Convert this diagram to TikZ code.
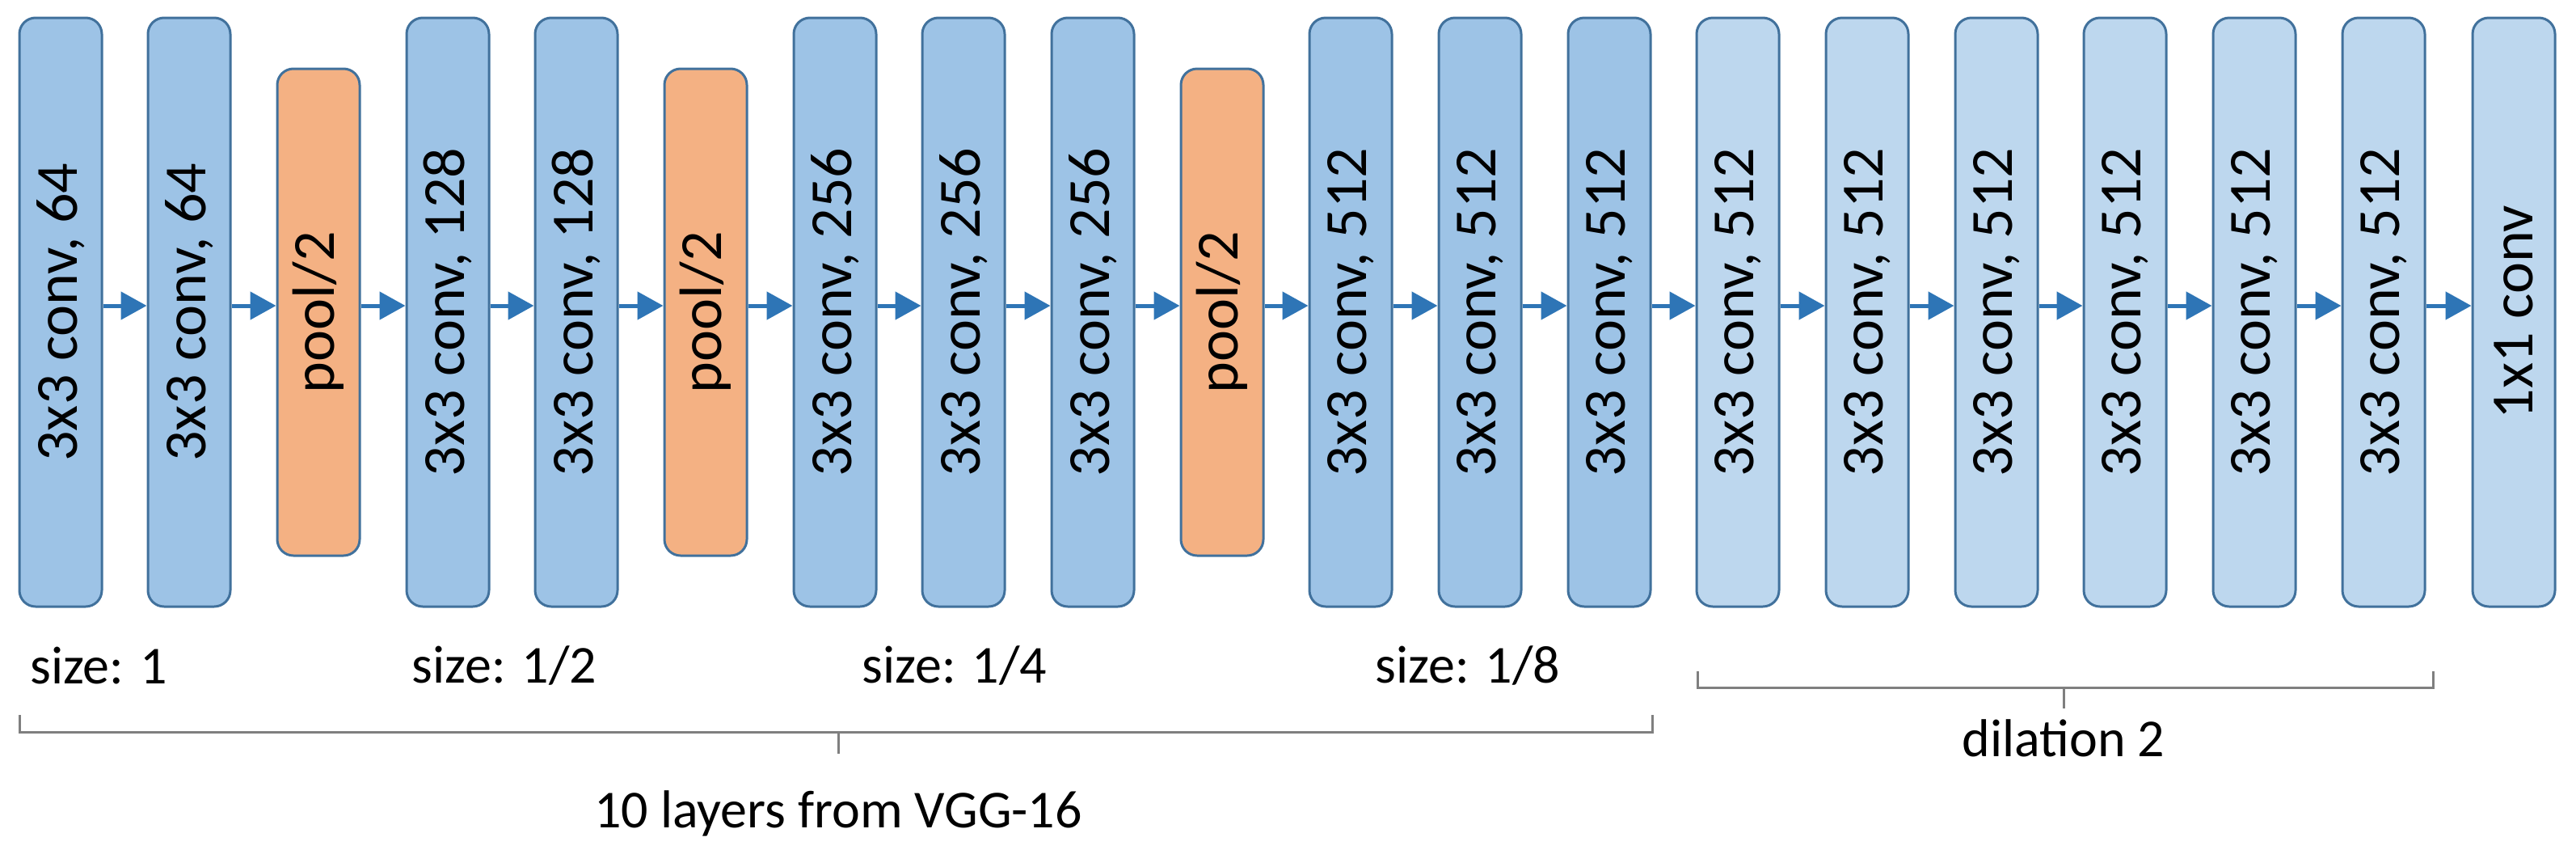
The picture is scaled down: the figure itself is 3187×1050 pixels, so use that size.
\documentclass[tikz,border=0pt]{standalone}
\usepackage{fontspec}
\setmainfont{Carlito}
\usetikzlibrary{arrows.meta}
\definecolor{cdark}{HTML}{9DC3E6}
\definecolor{clight}{HTML}{BDD7EE}
\definecolor{cpool}{HTML}{F4B183}
\definecolor{cedge}{HTML}{41719C}
\definecolor{carrow}{HTML}{2E75B6}
\definecolor{cbrace}{HTML}{7F7F7F}
\begin{document}
\begin{tikzpicture}[x=1pt,y=-1pt,
  layer/.style={draw=cedge,line width=3pt,rounded corners=20pt,minimum width=102pt,minimum height=728pt,inner sep=0pt,font=\fontsize{74}{88}\selectfont},
  conv/.style={layer,fill=cdark},
  dconv/.style={layer,fill=clight},
  pool/.style={layer,fill=cpool,minimum height=602pt},
  flow/.style={draw=carrow,line width=5pt,-{Triangle[length=32pt,width=34pt]}},
  lbl/.style={font=\fontsize{66}{80}\selectfont,inner sep=0pt},
  brace/.style={draw=cbrace,line width=3pt}]
\useasboundingbox (0,0) rectangle (3187,1050);
\def\xs{{75,234,394,554,713,873,1033,1192,1352,1512,1671,1831,1991,2150,2310,2470,2629,2789,2949,3110}}
\foreach \i/\t/\s in {1/3x3 conv{,} 64/conv,2/3x3 conv{,} 64/conv,3/pool\slash2/pool,4/3x3 conv{,} 128/conv,5/3x3 conv{,} 128/conv,6/pool\slash2/pool,7/3x3 conv{,} 256/conv,8/3x3 conv{,} 256/conv,9/3x3 conv{,} 256/conv,10/pool\slash2/pool,11/3x3 conv{,} 512/conv,12/3x3 conv{,} 512/conv,13/3x3 conv{,} 512/conv,14/3x3 conv{,} 512/dconv,15/3x3 conv{,} 512/dconv,16/3x3 conv{,} 512/dconv,17/3x3 conv{,} 512/dconv,18/3x3 conv{,} 512/dconv,19/3x3 conv{,} 512/dconv,20/1x1 conv/dconv}{
  \pgfmathsetmacro{\xx}{\xs[\i-1]}
  \node[\s] (b\i) at (\xx,386) {\rotatebox{90}{\t}};
}
\foreach \i [evaluate=\i as \j using int(\i+1)] in {1,...,19}{
  \draw[flow] (b\i.east |- 0,378) -- (b\j.west |- 0,378);
}
\node[lbl] (s1) at (122,823) {size: 1};
\node[lbl] (s2) at (624,823) {size: 1/2};
\node[lbl] (s3) at (1181,823) {size: 1/4};
\node[lbl] (s4) at (1816,823) {size: 1/8};
\draw[brace] (24,884) -- (24,905) -- (2044,905) -- (2044,884);
\draw[brace] (1037,905) -- (1037,932);
\node[lbl] (vgg) at (1037,1006) {10 layers from VGG-16};
\draw[brace] (2100,830) -- (2100,850) -- (3010,850) -- (3010,830);
\draw[brace] (2553,850) -- (2553,876);
\node[lbl] (dil) at (2553,913) {dilation 2};
\end{tikzpicture}
\end{document}
